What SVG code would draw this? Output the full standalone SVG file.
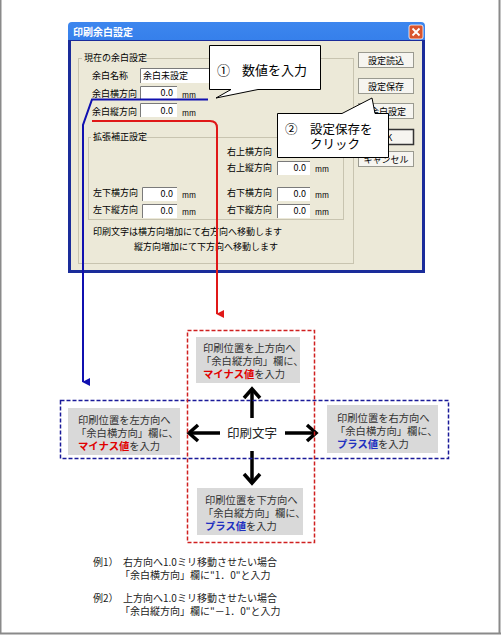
<svg xmlns="http://www.w3.org/2000/svg" width="501" height="635" viewBox="0 0 501 635">
<style>
text{font-family:"Noto Sans CJK JP","Noto Sans",sans-serif}
.dl{font-size:9px;fill:#000}
.mm{font-size:7.5px;fill:#000}
.val{font-size:9px;fill:#000;text-anchor:end}
.btn{fill:#f6f5f0;stroke:#9a9a90;stroke-width:1}
.btxt{font-size:9px;fill:#000;text-anchor:middle}
.inp{fill:#fff;stroke:none}
.inb{fill:none;stroke:#7a7a7a;stroke-width:1}
.grp{fill:none;stroke:#c8c4b0;stroke-width:1}
.co{fill:#fff;stroke:#000;stroke-width:1}
.cot{font-size:13px;fill:#000}
.box{fill:#d9d9d9}
.bt{font-size:10.3px;fill:#333}
.red{fill:#e00000;font-weight:bold}
.blu{fill:#2030c0;font-weight:bold}
.ex{font-size:10px;fill:#222}
.blk{fill:none;stroke:#000;stroke-width:3.5}
</style>
<defs>
<linearGradient id="tb" x1="0" y1="0" x2="0" y2="1">
<stop offset="0" stop-color="#3d86ee"/>
<stop offset="0.5" stop-color="#0a5ad8"/>
<stop offset="1" stop-color="#0848c0"/>
</linearGradient>
<marker id="ab" viewBox="0 0 10 10" refX="5" refY="9" markerWidth="8" markerHeight="8" markerUnits="userSpaceOnUse" orient="auto-start-reverse">
<path d="M0,0 L10,0 L5,10 Z" fill="#1010b0"/>
</marker>
<marker id="ar" viewBox="0 0 10 10" refX="5" refY="9" markerWidth="8" markerHeight="8" markerUnits="userSpaceOnUse" orient="auto-start-reverse">
<path d="M0,0 L10,0 L5,10 Z" fill="#e01818"/>
</marker>
<marker id="ak" viewBox="0 0 20 20" refX="17" refY="10" markerWidth="20" markerHeight="20" markerUnits="userSpaceOnUse" orient="auto">
<path d="M8,2 L17,10 L8,18" fill="none" stroke="#000" stroke-width="3.5" stroke-linecap="butt" stroke-linejoin="miter"/>
</marker>
</defs>
<rect x="0" y="0" width="501" height="635" fill="#fff"/>
<path d="M0.5,0 V634 M499.5,0 V634 M0,633.5 H501" stroke="#8a8a8a" stroke-width="2" fill="none"/>

<g id="dialog">
<rect x="68" y="22" width="357" height="251" rx="4" fill="url(#tb)"/>
<rect x="68" y="40" width="357" height="233" fill="#1a2c9a"/>
<rect x="71" y="41" width="351" height="229" fill="#ece9d8"/>
<text x="73" y="36" style="font-size:10px;font-weight:bold;fill:#fff">印刷余白設定</text>
<rect x="409" y="25" width="14" height="14" rx="2" fill="#d9542e" stroke="#fff" stroke-width="0.8"/>
<path d="M412.5,28.5 L419.5,35.5 M419.5,28.5 L412.5,35.5" stroke="#fff" stroke-width="1.8"/>
<rect class="grp" x="78.5" y="58.5" width="275" height="205"/>
<rect x="82" y="53" width="62" height="10" fill="#ece9d8"/>
<text class="dl" x="84" y="61">現在の余白設定</text>
<text class="dl" x="92" y="79">余白名称</text>
<rect class="inp" x="140" y="68" width="70" height="15"/>
<path class="inb" d="M140.5,83 V68.5 H210"/>
<text class="dl" x="143" y="79">余白未設定</text>
<text class="dl" x="92" y="97">余白横方向</text>
<rect class="inp" x="140" y="86" width="37" height="14"/>
<path class="inb" d="M140.5,100 V86.5 H177"/>
<text class="val" x="173" y="96">0.0</text>
<text class="mm" x="182" y="98">mm</text>
<text class="dl" x="92" y="115">余白縦方向</text>
<rect class="inp" x="140" y="103" width="37" height="14"/>
<path class="inb" d="M140.5,117 V103.5 H177"/>
<text class="val" x="173" y="114">0.0</text>
<text class="mm" x="182" y="116">mm</text>
<rect class="grp" x="88.5" y="137.5" width="255" height="82"/>
<rect x="91" y="131" width="54" height="10" fill="#ece9d8"/>
<text class="dl" x="93" y="140">拡張補正設定</text>
<text class="dl" x="227" y="155">右上横方向</text>
<rect class="inp" x="277" y="143" width="33" height="14"/>
<path class="inb" d="M277.5,157 V143.5 H310"/>
<text class="dl" x="227" y="171">右上縦方向</text>
<rect class="inp" x="277" y="161" width="33" height="14"/>
<path class="inb" d="M277.5,175 V161.5 H310"/>
<text class="val" x="306" y="171">0.0</text>
<text class="mm" x="315" y="172">mm</text>
<text class="dl" x="93" y="196">左下横方向</text>
<rect class="inp" x="142" y="187" width="35" height="14"/>
<path class="inb" d="M142.5,201 V187.5 H177"/>
<text class="val" x="173" y="197">0.0</text>
<text class="mm" x="182" y="198">mm</text>
<text class="dl" x="227" y="196">右下横方向</text>
<rect class="inp" x="277" y="187" width="33" height="14"/>
<path class="inb" d="M277.5,201 V187.5 H310"/>
<text class="val" x="306" y="197">0.0</text>
<text class="mm" x="315" y="198">mm</text>
<text class="dl" x="93" y="213">左下縦方向</text>
<rect class="inp" x="142" y="204" width="35" height="14"/>
<path class="inb" d="M142.5,218 V204.5 H177"/>
<text class="val" x="173" y="214">0.0</text>
<text class="mm" x="182" y="215">mm</text>
<text class="dl" x="227" y="213">右下縦方向</text>
<rect class="inp" x="277" y="204" width="33" height="14"/>
<path class="inb" d="M277.5,218 V204.5 H310"/>
<text class="val" x="306" y="214">0.0</text>
<text class="mm" x="315" y="215">mm</text>
<text class="dl" x="93" y="235">印刷文字は横方向増加にて右方向へ移動します</text>
<text class="dl" x="134" y="250">縦方向増加にて下方向へ移動します</text>
<rect class="btn" x="358.5" y="52.5" width="55" height="15"/>
<text class="btxt" x="386" y="63.5">設定読込</text>
<rect class="btn" x="358.5" y="78.5" width="55" height="15"/>
<text class="btxt" x="386" y="89.5">設定保存</text>
<rect class="btn" x="358.5" y="103.5" width="55" height="15"/>
<text class="btxt" x="388" y="114.5">余白設定</text>
<rect class="btn" x="358.5" y="129.5" width="55" height="15" style="stroke:#333;stroke-width:1.5"/>
<text class="btxt" x="386" y="140.5">OK</text>
<rect class="btn" x="358.5" y="151.5" width="55" height="15"/>
<text class="btxt" x="386" y="162.5">キャンセル</text>
</g>

<g id="callout1">
<path class="co" d="M209.5,45.5 H320.5 V89.5 H258 L216,98 L231,89.5 H209.5 Z"/>
<text class="cot" x="217" y="75">①<tspan x="242">数値を入力</tspan></text>
</g>
<g id="callout2">
<path class="co" d="M277.5,113.5 H342 L372,98 L375,113.5 H388.5 V157.5 H277.5 Z"/>
<text class="cot" x="285" y="134" style="font-size:12.5px">②<tspan x="310">設定保存を</tspan></text>
<text class="cot" x="310" y="149" style="font-size:12.5px">クリック</text>
</g>

<g id="connectors">
<path d="M208,99.5 H92 L83,125 V382" fill="none" stroke="#1010b0" stroke-width="2" marker-end="url(#ab)"/>
<path d="M92,121 H210 Q217,121 217,128 V314" fill="none" stroke="#e01818" stroke-width="2" marker-end="url(#ar)"/>
<path class="blk" d="M252,418 V389" marker-end="url(#ak)"/>
<path class="blk" d="M252,451 V483" marker-end="url(#ak)"/>
<path class="blk" d="M220,433 H189" marker-end="url(#ak)"/>
<path class="blk" d="M285,433 H316" marker-end="url(#ak)"/>
</g>

<g id="hframe">
<rect x="60.5" y="400.5" width="388" height="58" fill="none" stroke="#1a1a99" stroke-width="1.5" stroke-dasharray="4,2"/>
</g>
<g id="vframe">
<rect x="187.5" y="330.5" width="127" height="212" fill="none" stroke="#d02020" stroke-width="1.5" stroke-dasharray="4,2"/>
</g>

<g id="center">
<text x="227" y="438" style="font-size:12.5px;fill:#222">印刷文字</text>
</g>

<g id="up">
<rect class="box" x="196" y="337" width="104" height="46"/>
<text class="bt" x="203" y="352">印刷位置を上方向へ</text>
<text class="bt" x="201" y="365">「余白縦方向」欄に、</text>
<text class="bt" x="203" y="378"><tspan class="red">マイナス値</tspan>を入力</text>
</g>
<g id="left">
<rect class="box" x="68" y="408" width="112" height="47"/>
<text class="bt" x="78" y="424">印刷位置を左方向へ</text>
<text class="bt" x="76" y="437">「余白横方向」欄に、</text>
<text class="bt" x="78" y="450"><tspan class="red">マイナス値</tspan>を入力</text>
</g>
<g id="right">
<rect class="box" x="327" y="405" width="111" height="48"/>
<text class="bt" x="337" y="422">印刷位置を右方向へ</text>
<text class="bt" x="335" y="435">「余白横方向」欄に、</text>
<text class="bt" x="337" y="448"><tspan class="blu">プラス値</tspan>を入力</text>
</g>
<g id="down">
<rect class="box" x="197" y="488" width="106" height="47"/>
<text class="bt" x="205" y="504">印刷位置を下方向へ</text>
<text class="bt" x="203" y="517">「余白縦方向」欄に、</text>
<text class="bt" x="205" y="530"><tspan class="blu">プラス値</tspan>を入力</text>
</g>

<g id="examples">
<text class="ex" x="93" y="566">例1）</text>
<text class="ex" x="123" y="566">右方向へ1.0ミリ移動させたい場合</text>
<text class="ex" x="120" y="579">「余白横方向」欄に"1．0"と入力</text>
<text class="ex" x="93" y="602">例2）</text>
<text class="ex" x="123" y="602">上方向へ1.0ミリ移動させたい場合</text>
<text class="ex" x="120" y="615">「余白縦方向」欄に"－1．0"と入力</text>
</g>
</svg>
